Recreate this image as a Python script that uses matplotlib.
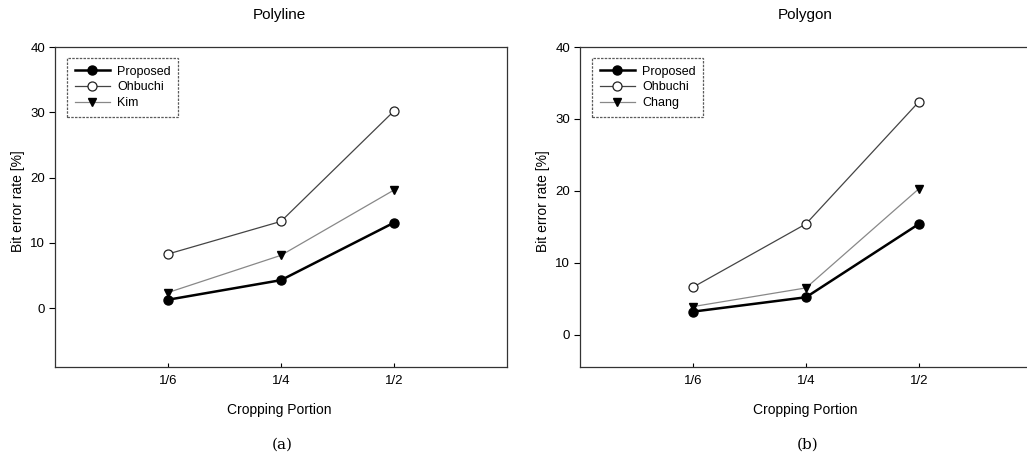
import matplotlib
matplotlib.use("Agg")
import matplotlib.pyplot as plt

plt.rcParams['font.family'] = ['Liberation Sans', 'DejaVu Sans']

portions = ["1/6", "1/4", "1/2"]

# Polyline panel
poly_proposed = [1.3, 4.3, 13.1]
poly_ohbuchi = [8.3, 13.3, 30.2]
poly_kim = [2.4, 8.1, 18.1]

# Polygon panel
gon_proposed = [3.2, 5.2, 15.4]
gon_ohbuchi = [6.6, 15.4, 32.4]
gon_chang = [3.9, 6.5, 20.3]

W, H = 1027, 455
fig = plt.figure(figsize=(W / 100, H / 100), dpi=100)


def px(x, y):
    return x / W, 1 - y / H


def make_panel(left_px, top_px, bottom_px, ylim, proposed, ohbuchi, third, third_name,
               title, letter, title_x):
    l, t = px(left_px, top_px)
    _, b = px(left_px, bottom_px)
    ax = fig.add_axes([l, b, 452 / W, t - b])
    xs = list(range(1, len(portions) + 1))
    ax.plot(xs, proposed, color='black', lw=1.8, marker='o', ms=6.5,
            mfc='black', mec='black', label='Proposed', zorder=4)
    ax.plot(xs, ohbuchi, color='#444444', lw=0.9, marker='o', ms=6.5,
            mfc='white', mec='#222222', mew=0.9, label='Ohbuchi', zorder=3)
    ax.plot(xs, third, color='#888888', lw=0.9, marker='v', ms=5.5,
            mfc='black', mec='black', label=third_name, zorder=3)
    ax.set_xlim(0, 4)
    ax.set_ylim(*ylim)
    ax.set_xticks(xs)
    ax.set_xticklabels(portions)
    ax.set_yticks([0, 10, 20, 30, 40])
    ax.tick_params(axis='y', direction='out', length=4, width=0.8, labelsize=9.5, pad=3)
    ax.tick_params(axis='x', direction='in', length=3, width=0.8, labelsize=9.5, pad=6)
    for s in ax.spines.values():
        s.set_color('#333333')
        s.set_linewidth(0.9)
    leg = ax.legend(loc='upper left', bbox_to_anchor=(12 / 452, 1 - 11 / (bottom_px - top_px)),
                    fontsize=9, frameon=True, fancybox=False, handlelength=2.8,
                    labelspacing=0.3, borderpad=0.6, handletextpad=0.6, borderaxespad=0)
    fr = leg.get_frame()
    fr.set_edgecolor('#333333')
    fr.set_linestyle((0, (2, 1)))
    fr.set_linewidth(0.9)
    tx, ty = px(title_x, 15)
    fig.text(tx, ty, title, ha='center', va='center', fontsize=11)
    tx, ty = px(title_x, 410)
    fig.text(tx, ty, 'Cropping Portion', ha='center', va='center', fontsize=10)
    tx, ty = px(title_x + 3, 445)
    fig.text(tx, ty, letter, ha='center', va='center', fontsize=11, family='DejaVu Serif')
    tx, ty = px(left_px - 37, 201)
    fig.text(tx, ty, 'Bit error rate [%]', ha='center', va='center', rotation=90, fontsize=10)
    return ax


make_panel(55, 47, 367, (-9, 40), poly_proposed, poly_ohbuchi, poly_kim, 'Kim',
           'Polyline', '(a)', 279)
make_panel(580, 47, 367, (-4.5, 40), gon_proposed, gon_ohbuchi, gon_chang, 'Chang',
           'Polygon', '(b)', 805)

fig.savefig('out.png', dpi=100)
